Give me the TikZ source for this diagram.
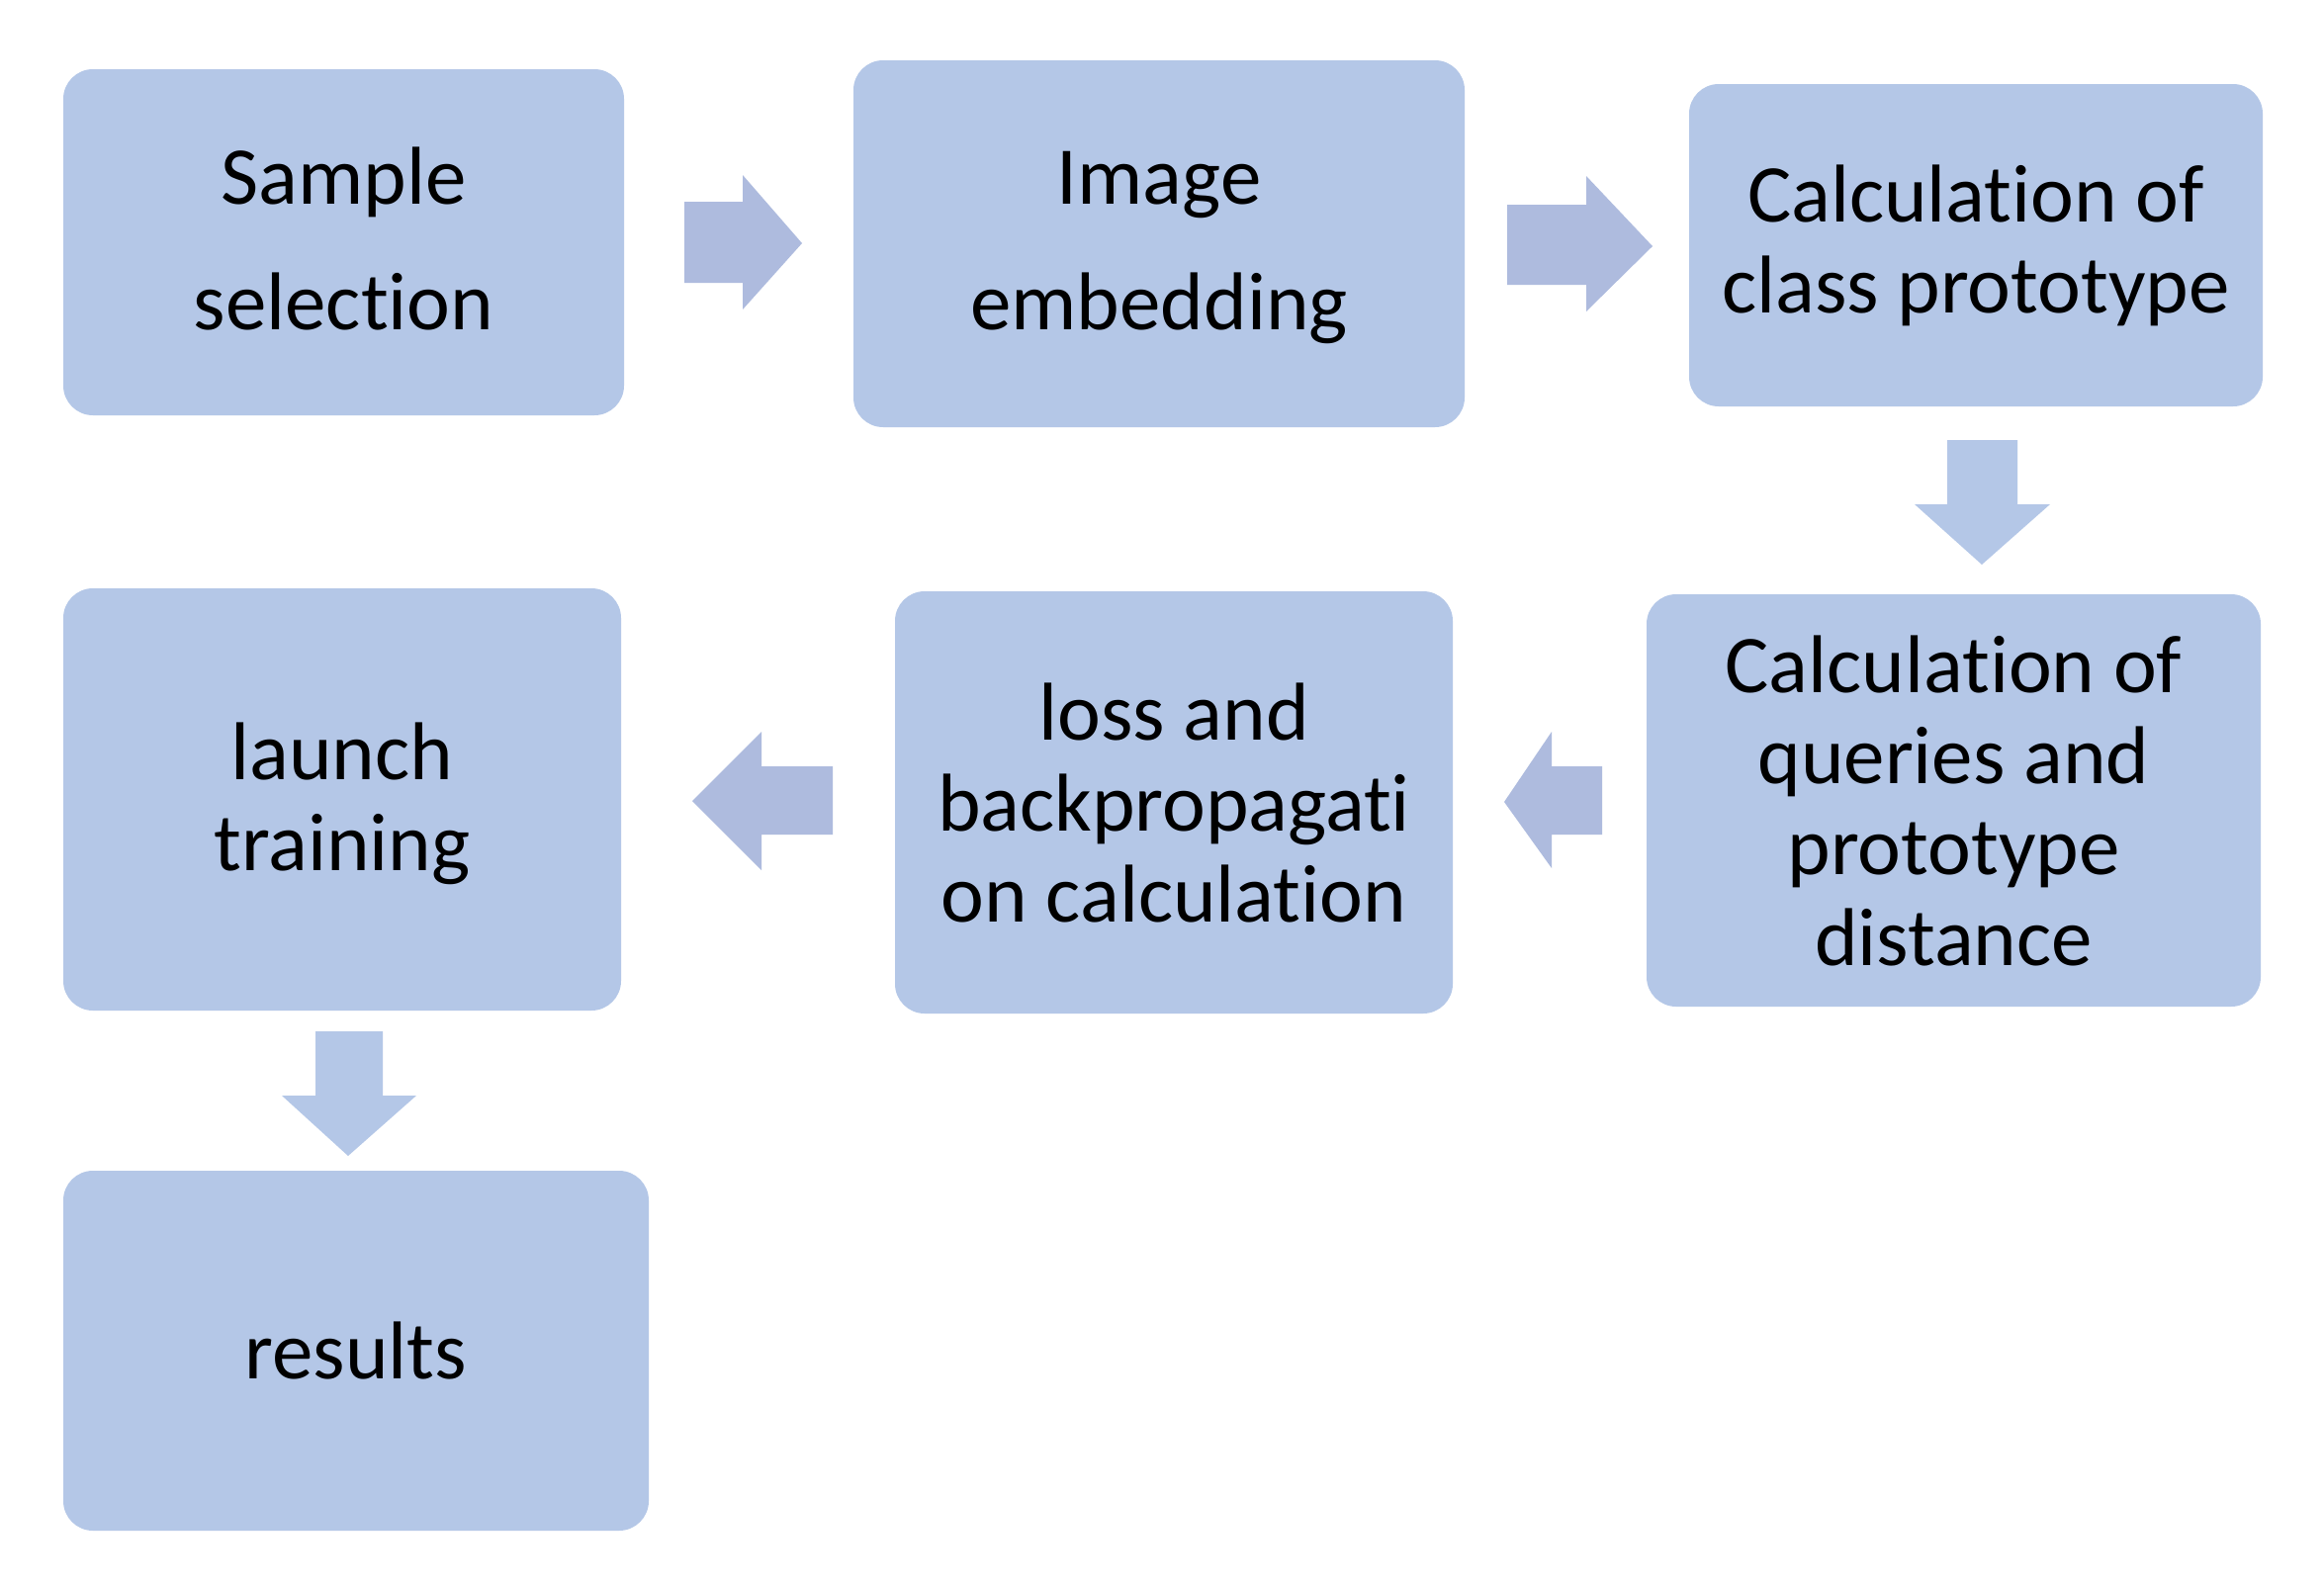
\documentclass[tikz,border=0pt]{standalone}
\usepackage{fontspec}
\setmainfont{Carlito}[Ligatures={NoCommon,NoRare}]
\definecolor{boxfill}{HTML}{B4C7E7}
\definecolor{harrow}{HTML}{AEBBDE}
\definecolor{varrow}{HTML}{B4C7E7}
\begin{document}
\begin{tikzpicture}[x=1pt,y=-1pt,
  box/.style={fill=boxfill, rounded corners=30pt, inner sep=0pt},
  txt/.style={inner sep=0pt, align=center, font=\fontsize{83}{92}\selectfont},
  harr/.style={fill=harrow},
  varr/.style={fill=varrow}]
\useasboundingbox (0,0) rectangle (2350,1604);
\fill[white] (0,0) rectangle (2350,1604);
% boxes
\node[box, minimum width=567pt, minimum height=350pt] (s1) at (347.5,245) {};
\node[box, minimum width=618pt, minimum height=371pt] (s2) at (1172,246.5) {};
\node[box, minimum width=580pt, minimum height=326pt] (s3) at (1998,248) {};
\node[box, minimum width=621pt, minimum height=417pt] (s4) at (1975.5,809.5) {};
\node[box, minimum width=564pt, minimum height=427pt] (s5) at (1187,811.5) {};
\node[box, minimum width=564pt, minimum height=427pt] (s6) at (346,808.5) {};
\node[box, minimum width=592pt, minimum height=364pt] (s7) at (360,1366) {};
% texts
\node[txt] (t1) at ([yshift=4pt]s1.center) {Sample\\[35pt]selection};
\node[txt] (t2) at ([yshift=-4pt]s2.center) {Image\\[35pt]embedding};
\node[txt] (t3) at (s3.center) {Calculation of\\class prototype};
\node[txt] (t4) at (s4.center) {Calculation of\\queries and\\prototype\\distance};
\node[txt] (t5) at (s5.center) {loss and\\backpropagati\\on calculation};
\node[txt] (t6) at ([yshift=-4pt]s6.center) {launch\\training};
\node[txt] (t7) at (s7.center) {results};
% block arrows
\fill[harr] (692,204) -- (751,204) -- (751,177) -- (811,246) -- (751,313) -- (751,286) -- (692,286) -- cycle;
\fill[harr] (1524,207) -- (1604,207) -- (1604,178) -- (1671,249) -- (1604,315) -- (1604,288) -- (1524,288) -- cycle;
\fill[varr] (1969,445) -- (2040,445) -- (2040,510) -- (2073,510) -- (2004,571) -- (1936,510) -- (1969,510) -- cycle;
\fill[harr] (1620,775) -- (1569,775) -- (1569,740) -- (1521,811) -- (1569,878) -- (1569,844) -- (1620,844) -- cycle;
\fill[harr] (842,775) -- (770,775) -- (770,740) -- (700,810) -- (770,880) -- (770,844) -- (842,844) -- cycle;
\fill[varr] (319,1043) -- (387,1043) -- (387,1108) -- (421,1108) -- (352,1169) -- (285,1108) -- (319,1108) -- cycle;
\end{tikzpicture}
\end{document}
